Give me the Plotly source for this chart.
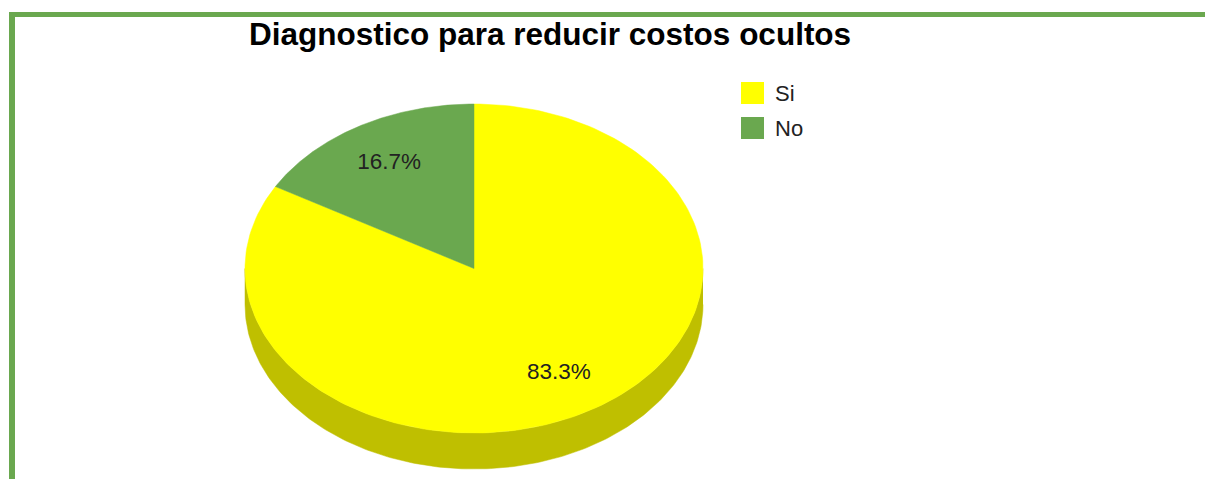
import numpy as np
import plotly.graph_objects as go

# ---- data ----
labels = ["Si", "No"]
values = [83.3, 16.7]
colors = ["#FFFF00", "#6AA84F"]
title_text = "Diagnostico para reducir costos ocultos"

# ---- geometry (pixel space) ----
W, H = 1205, 479
CX, CY = 474, 268.5
RX, RY = 229, 164.5
DEPTH = 36
LABEL_FRAC = 0.74
FRAME = "#6AA84F"
TEXT = "#222222"
FONT = "Liberation Sans, Arial, sans-serif"


def darker(hexcol, f=0.75):
    h = hexcol.lstrip("#")
    r, g, b = (int(h[i:i + 2], 16) for i in (0, 2, 4))
    return "rgb(%d,%d,%d)" % (r * f, g * f, b * f)


def arc(a, b, dy=0.0, n=200):
    t = np.radians(np.linspace(a, b, n))
    return CX + RX * np.sin(t), CY - RY * np.cos(t) + dy


total = float(sum(values))
fig = go.Figure()

starts = []
acc = 0.0
for v in values:
    starts.append(acc)
    acc += v / total * 360.0

# side walls (front half: 90..270 deg clockwise from top)
for lab, v, c, s in zip(labels, values, colors, starts):
    e = s + v / total * 360.0
    a, b = max(s, 90.0), min(e, 270.0)
    if a < b:
        x1, y1 = arc(a, b)
        x2, y2 = arc(b, a, DEPTH)
        fig.add_trace(go.Scatter(
            x=np.concatenate([x1, x2]), y=np.concatenate([y1, y2]),
            fill="toself", fillcolor=darker(c), mode="lines",
            line=dict(color=darker(c), width=0.5),
            hoverinfo="skip", showlegend=False))

# top faces
for lab, v, c, s in zip(labels, values, colors, starts):
    e = s + v / total * 360.0
    xa, ya = arc(s, e)
    fig.add_trace(go.Scatter(
        x=np.concatenate([[CX], xa, [CX]]), y=np.concatenate([[CY], ya, [CY]]),
        fill="toself", fillcolor=c, mode="lines",
        line=dict(color=c, width=0.5),
        name=lab, hoverinfo="skip", showlegend=False))

# percentage labels
lx, ly, lt = [], [], []
for v, s in zip(values, starts):
    m = np.radians(s + v / total * 180.0)
    lx.append(CX + LABEL_FRAC * RX * np.sin(m))
    ly.append(CY - LABEL_FRAC * RY * np.cos(m))
    lt.append("%.1f%%" % (v / total * 100))
fig.add_trace(go.Scatter(x=lx, y=ly, text=lt, mode="text",
                         textfont=dict(family=FONT, size=22.5, color=TEXT),
                         hoverinfo="skip", showlegend=False))

shapes = [
    # frame
    dict(type="rect", xref="x", yref="y", x0=9, x1=15, y0=12, y1=H + 5,
         fillcolor=FRAME, line=dict(width=0)),
    dict(type="rect", xref="x", yref="y", x0=9, x1=W + 5, y0=12, y1=17,
         fillcolor=FRAME, line=dict(width=0)),
]
annotations = [
    dict(text="<b>%s</b>" % title_text, x=550, y=34, xref="x", yref="y",
         showarrow=False, xanchor="center", yanchor="middle",
         font=dict(family=FONT, size=31.5, color="#000000")),
]
# legend (manual, square swatches)
for i, (lab, c) in enumerate(zip(labels, colors)):
    y0 = 82 + i * 35
    shapes.append(dict(type="rect", xref="x", yref="y", x0=741, x1=764,
                       y0=y0, y1=y0 + 22, fillcolor=c, line=dict(width=0)))
    annotations.append(dict(text=lab, x=773, y=y0 + 11, xref="x", yref="y",
                            showarrow=False, xanchor="left", yanchor="middle",
                            font=dict(family=FONT, size=22, color=TEXT)))

fig.update_layout(
    width=W, height=H, margin=dict(l=0, r=0, t=0, b=0),
    paper_bgcolor="white", plot_bgcolor="white",
    xaxis=dict(range=[0, W], visible=False, fixedrange=True),
    yaxis=dict(range=[H, 0], visible=False, fixedrange=True),
    shapes=shapes, annotations=annotations, showlegend=False,
)

fig.write_html("out.html")
